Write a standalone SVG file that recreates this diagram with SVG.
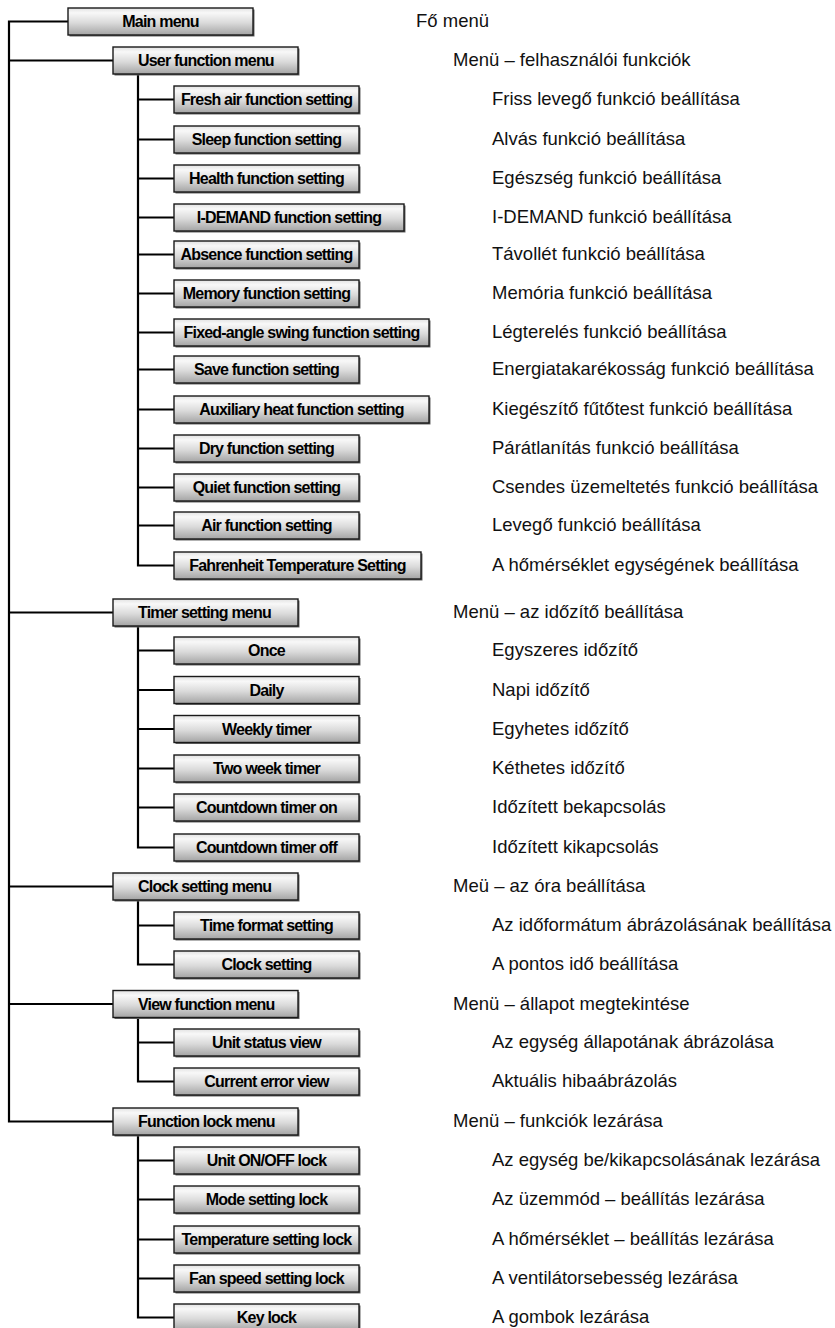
<svg xmlns="http://www.w3.org/2000/svg" width="835" height="1328" viewBox="0 0 835 1328">
<defs>
<linearGradient id="bg" x1="0" y1="0" x2="0" y2="1">
<stop offset="0" stop-color="#e2e2e2"/>
<stop offset="0.18" stop-color="#f8f8f8"/>
<stop offset="0.55" stop-color="#dadada"/>
<stop offset="1" stop-color="#a4a4a4"/>
</linearGradient>
</defs>
<style>
.b{fill:url(#bg);stroke:#1a1a1a;stroke-width:1.4}
.s{fill:#666}
.t{font-family:"Liberation Sans",Arial,sans-serif;font-size:16px;font-weight:bold;letter-spacing:-0.8px;fill:#000}
.c{text-anchor:middle}
.r{font-family:"Liberation Sans",Arial,sans-serif;font-size:18.5px;fill:#111}
.k{fill:none;stroke:#000;stroke-width:2.2}
</style>
<rect width="835" height="1328" fill="#fff"/>
<g id="connectors" class="k">
<path d="M68,21.5 H9 V1121.5 H113 M9,60.5 H113 M9,612.5 H113 M9,886.5 H113 M9,1004 H113"/>
<path d="M138,74 V565.5 H174 M138,99.5 H174 M138,139.5 H174 M138,178.5 H174 M138,217.5 H174 M138,254.5 H174 M138,293.5 H174 M138,332.5 H174 M138,369.5 H174 M138,409.5 H174 M138,448.5 H174 M138,487.5 H174 M138,525.5 H174"/>
<path d="M138,626 V847.5 H174 M138,650.5 H174 M138,690 H174 M138,729 H174 M138,768.5 H174 M138,807.5 H174"/>
<path d="M138,900 V964.5 H174 M138,925.5 H174"/>
<path d="M138,1017.5 V1081.5 H174 M138,1042.5 H174"/>
<path d="M138,1135 V1317.5 H174 M138,1160.5 H174 M138,1199.5 H174 M138,1239.5 H174 M138,1278.5 H174"/>
</g>
<g id="main"><rect class="s" x="69.5" y="9.5" width="185" height="27"/><rect class="b" x="68" y="8" width="185" height="27"/><text class="t c" x="160.5" y="27">Main menu</text><text class="r" x="416" y="27">Fő menü</text></g>
<g id="user"><rect class="s" x="114.5" y="48.5" width="185" height="27"/><rect class="b" x="113" y="47" width="185" height="27"/><text class="t" x="138" y="66">User function menu</text><text class="r" x="453" y="66">Menü – felhasználói funkciók</text></g>
<g id="fresh"><rect class="s" x="175.5" y="87.5" width="185" height="27"/><rect class="b" x="174" y="86" width="185" height="27"/><text class="t c" x="266.5" y="105">Fresh air function setting</text><text class="r" x="492" y="105">Friss levegő funkció beállítása</text></g>
<g id="sleep"><rect class="s" x="175.5" y="127.5" width="185" height="27"/><rect class="b" x="174" y="126" width="185" height="27"/><text class="t c" x="266.5" y="145">Sleep function setting</text><text class="r" x="492" y="145">Alvás funkció beállítása</text></g>
<g id="health"><rect class="s" x="175.5" y="166.5" width="185" height="27"/><rect class="b" x="174" y="165" width="185" height="27"/><text class="t c" x="266.5" y="184">Health function setting</text><text class="r" x="492" y="184">Egészség funkció beállítása</text></g>
<g id="idemand"><rect class="s" x="175.5" y="205.5" width="230" height="27"/><rect class="b" x="174" y="204" width="230" height="27"/><text class="t c" x="289" y="223">I-DEMAND function setting</text><text class="r" x="492" y="223">I-DEMAND funkció beállítása</text></g>
<g id="absence"><rect class="s" x="175.5" y="242.5" width="185" height="27"/><rect class="b" x="174" y="241" width="185" height="27"/><text class="t c" x="266.5" y="260">Absence function setting</text><text class="r" x="492" y="260">Távollét funkció beállítása</text></g>
<g id="memory"><rect class="s" x="175.5" y="281.5" width="185" height="27"/><rect class="b" x="174" y="280" width="185" height="27"/><text class="t c" x="266.5" y="299">Memory function setting</text><text class="r" x="492" y="299">Memória funkció beállítása</text></g>
<g id="fixed"><rect class="s" x="175.5" y="320.5" width="255" height="27"/><rect class="b" x="174" y="319" width="255" height="27"/><text class="t c" x="301.5" y="338">Fixed-angle swing function setting</text><text class="r" x="492" y="338">Légterelés funkció beállítása</text></g>
<g id="save"><rect class="s" x="175.5" y="357.5" width="185" height="27"/><rect class="b" x="174" y="356" width="185" height="27"/><text class="t c" x="266.5" y="375">Save function setting</text><text class="r" x="492" y="375">Energiatakarékosság funkció beállítása</text></g>
<g id="aux"><rect class="s" x="175.5" y="397.5" width="255" height="27"/><rect class="b" x="174" y="396" width="255" height="27"/><text class="t c" x="301.5" y="415">Auxiliary heat function setting</text><text class="r" x="492" y="415">Kiegészítő fűtőtest funkció beállítása</text></g>
<g id="dry"><rect class="s" x="175.5" y="436.5" width="185" height="27"/><rect class="b" x="174" y="435" width="185" height="27"/><text class="t c" x="266.5" y="454">Dry function setting</text><text class="r" x="492" y="454">Párátlanítás funkció beállítása</text></g>
<g id="quiet"><rect class="s" x="175.5" y="475.5" width="185" height="27"/><rect class="b" x="174" y="474" width="185" height="27"/><text class="t c" x="266.5" y="493">Quiet function setting</text><text class="r" x="492" y="493">Csendes üzemeltetés funkció beállítása</text></g>
<g id="air"><rect class="s" x="175.5" y="513.5" width="185" height="27"/><rect class="b" x="174" y="512" width="185" height="27"/><text class="t c" x="266.5" y="531">Air function setting</text><text class="r" x="492" y="531">Levegő funkció beállítása</text></g>
<g id="fahrenheit"><rect class="s" x="175.5" y="553.5" width="247" height="27"/><rect class="b" x="174" y="552" width="247" height="27"/><text class="t c" x="297.5" y="571">Fahrenheit Temperature Setting</text><text class="r" x="492" y="571">A hőmérséklet egységének beállítása</text></g>
<g id="timer"><rect class="s" x="114.5" y="600.5" width="185" height="27"/><rect class="b" x="113" y="599" width="185" height="27"/><text class="t" x="138" y="618">Timer setting menu</text><text class="r" x="453" y="618">Menü – az időzítő beállítása</text></g>
<g id="once"><rect class="s" x="175.5" y="638.5" width="185" height="27"/><rect class="b" x="174" y="637" width="185" height="27"/><text class="t c" x="266.5" y="656">Once</text><text class="r" x="492" y="656">Egyszeres időzítő</text></g>
<g id="daily"><rect class="s" x="175.5" y="678" width="185" height="27"/><rect class="b" x="174" y="676.5" width="185" height="27"/><text class="t c" x="266.5" y="695.5">Daily</text><text class="r" x="492" y="695.5">Napi időzítő</text></g>
<g id="weekly"><rect class="s" x="175.5" y="717" width="185" height="27"/><rect class="b" x="174" y="715.5" width="185" height="27"/><text class="t c" x="266.5" y="734.5">Weekly timer</text><text class="r" x="492" y="734.5">Egyhetes időzítő</text></g>
<g id="twoweek"><rect class="s" x="175.5" y="756.5" width="185" height="27"/><rect class="b" x="174" y="755" width="185" height="27"/><text class="t c" x="266.5" y="774">Two week timer</text><text class="r" x="492" y="774">Kéthetes időzítő</text></g>
<g id="cdon"><rect class="s" x="175.5" y="795.5" width="185" height="27"/><rect class="b" x="174" y="794" width="185" height="27"/><text class="t c" x="266.5" y="813">Countdown timer on</text><text class="r" x="492" y="813">Időzített bekapcsolás</text></g>
<g id="cdoff"><rect class="s" x="175.5" y="835.5" width="185" height="27"/><rect class="b" x="174" y="834" width="185" height="27"/><text class="t c" x="266.5" y="853">Countdown timer off</text><text class="r" x="492" y="853">Időzített kikapcsolás</text></g>
<g id="clock"><rect class="s" x="114.5" y="874.5" width="185" height="27"/><rect class="b" x="113" y="873" width="185" height="27"/><text class="t" x="138" y="892">Clock setting menu</text><text class="r" x="453" y="892">Meü – az óra beállítása</text></g>
<g id="timefmt"><rect class="s" x="175.5" y="913.5" width="185" height="27"/><rect class="b" x="174" y="912" width="185" height="27"/><text class="t c" x="266.5" y="931">Time format setting</text><text class="r" x="492" y="931">Az időformátum ábrázolásának beállítása</text></g>
<g id="clockset"><rect class="s" x="175.5" y="952.5" width="185" height="27"/><rect class="b" x="174" y="951" width="185" height="27"/><text class="t c" x="266.5" y="970">Clock setting</text><text class="r" x="492" y="970">A pontos idő beállítása</text></g>
<g id="view"><rect class="s" x="114.5" y="992" width="185" height="27"/><rect class="b" x="113" y="990.5" width="185" height="27"/><text class="t" x="138" y="1009.5">View function menu</text><text class="r" x="453" y="1009.5">Menü – állapot megtekintése</text></g>
<g id="unitstatus"><rect class="s" x="175.5" y="1030.5" width="185" height="27"/><rect class="b" x="174" y="1029" width="185" height="27"/><text class="t c" x="266.5" y="1048">Unit status view</text><text class="r" x="492" y="1048">Az egység állapotának ábrázolása</text></g>
<g id="curerr"><rect class="s" x="175.5" y="1069.5" width="185" height="27"/><rect class="b" x="174" y="1068" width="185" height="27"/><text class="t c" x="266.5" y="1087">Current error view</text><text class="r" x="492" y="1087">Aktuális hibaábrázolás</text></g>
<g id="lock"><rect class="s" x="114.5" y="1109.5" width="185" height="27"/><rect class="b" x="113" y="1108" width="185" height="27"/><text class="t" x="138" y="1127">Function lock menu</text><text class="r" x="453" y="1127">Menü – funkciók lezárása</text></g>
<g id="onoff"><rect class="s" x="175.5" y="1148.5" width="185" height="27"/><rect class="b" x="174" y="1147" width="185" height="27"/><text class="t c" x="266.5" y="1166">Unit ON/OFF lock</text><text class="r" x="492" y="1166">Az egység be/kikapcsolásának lezárása</text></g>
<g id="mode"><rect class="s" x="175.5" y="1187.5" width="185" height="27"/><rect class="b" x="174" y="1186" width="185" height="27"/><text class="t c" x="266.5" y="1205">Mode setting lock</text><text class="r" x="492" y="1205">Az üzemmód – beállítás lezárása</text></g>
<g id="temp"><rect class="s" x="175.5" y="1227.5" width="185" height="27"/><rect class="b" x="174" y="1226" width="185" height="27"/><text class="t c" x="266.5" y="1245">Temperature setting lock</text><text class="r" x="492" y="1245">A hőmérséklet – beállítás lezárása</text></g>
<g id="fan"><rect class="s" x="175.5" y="1266.5" width="185" height="27"/><rect class="b" x="174" y="1265" width="185" height="27"/><text class="t c" x="266.5" y="1284">Fan speed setting lock</text><text class="r" x="492" y="1284">A ventilátorsebesség lezárása</text></g>
<g id="key"><rect class="s" x="175.5" y="1305.5" width="185" height="27"/><rect class="b" x="174" y="1304" width="185" height="27"/><text class="t c" x="266.5" y="1323">Key lock</text><text class="r" x="492" y="1323">A gombok lezárása</text></g>
</svg>
